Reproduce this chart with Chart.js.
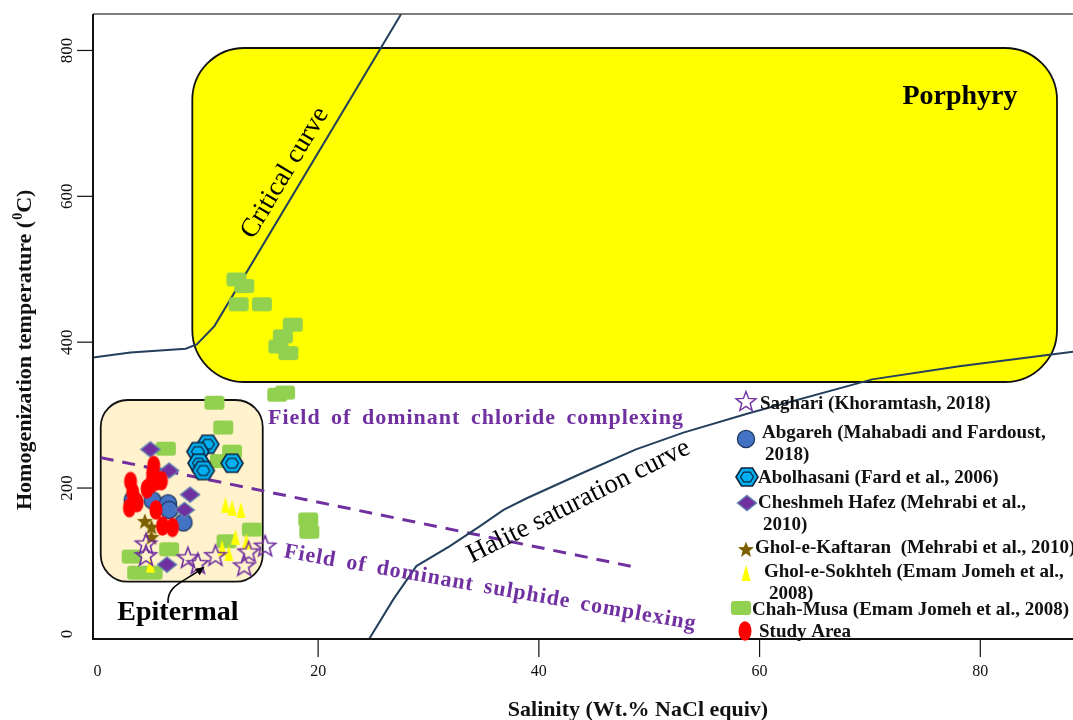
<!DOCTYPE html>
<html>
<head>
<meta charset="utf-8">
<title>Homogenization temperature vs salinity</title>
<script src="https://cdn.jsdelivr.net/npm/chart.js@4.4.1/dist/chart.umd.min.js"></script>
<style>
  html, body { margin: 0; padding: 0; background: #fff; overflow: hidden; }
  canvas { display: block; }
</style>
</head>
<body>
<canvas id="fluidChart" width="1073" height="720"></canvas>
<script>
// axis ticks
const xTicks = [0, 20, 40, 60, 80];
const yTicks = [0, 200, 400, 600, 800];

// fluid inclusion data (salinity wt.% NaCl, Th in C)
const saghariX = [4.4, 4.4, 8.2, 9.1, 10.7, 13.7, 13.3, 15.2];
const saghariY = [124, 108, 105, 97, 108, 113, 94, 121];
const abgarehX = [3.2, 5.0, 5.4, 6.4, 6.5, 7.8];
const abgarehY = [184, 183, 216, 179, 170, 153];
const abolhasaniX = [10.0, 9.1, 9.2, 9.6, 12.2];
const abolhasaniY = [260, 250, 234, 224, 234];
const cheshmehX = [4.8, 6.5, 8.4, 7.9, 6.3];
const cheshmehY = [253, 224, 191, 170, 95];
const kaftaranX = [4.3, 4.9, 4.9];
const kaftaranY = [155, 147, 133];
const sokhtehX = [11.6, 12.2, 13.0, 12.5, 11.3, 11.9, 13.5, 4.8];
const sokhtehY = [177, 173, 170, 133, 118, 111, 127, 95];
const chahMusaX = [12.6, 13.3, 12.8, 14.9, 17.7, 16.8, 16.4, 17.3, 16.3, 17.0, 10.6, 11.4, 12.2, 11.1, 6.2, 14.0, 11.7, 6.5, 3.1, 3.6, 5.0, 19.1, 19.2];
const chahMusaY = [486, 477, 452, 452, 424, 408, 394, 385, 328, 331, 317, 283, 250, 237, 254, 143, 127, 116, 106, 84, 84, 157, 140];
const studyX = [5.1, 5.0, 3.0, 3.2, 3.6, 2.9, 4.5, 4.9, 5.4, 5.8, 5.3, 5.9, 6.8];
const studyY = [231, 220, 209, 194, 180, 173, 199, 206, 210, 210, 170, 148, 146];

// reference curves
const criticalX = [-0.4, 3, 8, 9, 10.6, 29.5];
const criticalY = [379, 386, 391, 397, 422, 900];
const haliteX = [24.5, 26.8, 28.9, 31.9, 34.6, 36.8, 38.9, 44.0, 48.8, 53.1, 59.1, 70.2, 78.1, 88.4];
const haliteY = [-10, 47, 93, 120, 147, 170, 186, 221, 253, 276, 303, 349, 367, 387];
const complexX = [0.3, 48.9];
const complexY = [241.7, 91.0];

// fields: [x left, x right, y top, y bottom]
const porphyryBox = [8.6, 86.95, 803.4, 345.4];
const epithermalBox = [0.3, 14.98, 320.7, 71.6];

const legendLabels = [
  ['Saghari (Khoramtash, 2018)'],
  ['Abgareh (Mahabadi and Fardoust,', '2018)'],
  ['Abolhasani (Fard et al., 2006)'],
  ['Cheshmeh Hafez (Mehrabi et al.,', '2010)'],
  ['Ghol-e-Kaftaran  (Mehrabi et al., 2010)'],
  ['Ghol-e-Sokhteh (Emam Jomeh et al.,', '2008)'],
  ['Chah-Musa (Emam Jomeh et al., 2008)'],
  ['Study Area']
];

const SERIF = '"Liberation Serif", "Times New Roman", serif';
const PURPLE = '#7030A0';
const CURVE = '#243F5C';

function pointSet(xs, ys) {
  return xs.map((v, i) => ({ x: v, y: ys[i] }));
}

// little canvases used as point styles
function markerCanvas(w, h, draw) {
  const c = document.createElement('canvas');
  c.width = w; c.height = h;
  draw(c.getContext('2d'), w / 2, h / 2);
  return c;
}

function starPath(g, cx, cy, ro, ri) {
  g.beginPath();
  for (let i = 0; i < 10; i++) {
    const r = i % 2 ? ri : ro;
    const a = -Math.PI / 2 + i * Math.PI / 5;
    g.lineTo(cx + r * Math.cos(a), cy + r * Math.sin(a));
  }
  g.closePath();
}

function hexPath(g, cx, cy, hw, hh) {
  g.beginPath();
  g.moveTo(cx - hw, cy);
  g.lineTo(cx - hw / 2, cy - hh);
  g.lineTo(cx + hw / 2, cy - hh);
  g.lineTo(cx + hw, cy);
  g.lineTo(cx + hw / 2, cy + hh);
  g.lineTo(cx - hw / 2, cy + hh);
  g.closePath();
}

const openStar = markerCanvas(26, 26, (g, cx, cy) => {
  starPath(g, cx, cy + 1, 11, 4.6);
  g.lineWidth = 1.6; g.strokeStyle = PURPLE; g.stroke();
});
const brownStar = markerCanvas(20, 20, (g, cx, cy) => {
  starPath(g, cx, cy + 1, 8.5, 3.6);
  g.fillStyle = '#7F6000'; g.fill();
});
const blueCircle = markerCanvas(22, 22, (g, cx, cy) => {
  g.beginPath(); g.arc(cx, cy, 8.6, 0, Math.PI * 2);
  g.fillStyle = '#4472C4'; g.fill();
  g.lineWidth = 1.3; g.strokeStyle = '#1F3A64'; g.stroke();
});
const hexagon = markerCanvas(26, 22, (g, cx, cy) => {
  hexPath(g, cx, cy, 11, 9);
  g.fillStyle = '#00B0F0'; g.fill();
  g.lineWidth = 1.6; g.strokeStyle = '#10243F'; g.stroke();
  hexPath(g, cx, cy, 6.5, 4.8);
  g.lineWidth = 1.2; g.stroke();
});
const diamond = markerCanvas(22, 18, (g, cx, cy) => {
  g.beginPath();
  g.moveTo(cx, cy - 7.5); g.lineTo(cx + 9.5, cy); g.lineTo(cx, cy + 7.5); g.lineTo(cx - 9.5, cy);
  g.closePath();
  g.fillStyle = PURPLE; g.fill();
  g.lineWidth = 1.4; g.strokeStyle = '#5E7FB0'; g.stroke();
});
const triangle = markerCanvas(12, 18, (g, cx, cy) => {
  g.beginPath();
  g.moveTo(cx, cy - 8); g.lineTo(cx + 4.5, cy + 8); g.lineTo(cx - 4.5, cy + 8);
  g.closePath();
  g.fillStyle = '#FFFF00'; g.fill();
});
const greenRect = markerCanvas(22, 16, (g, cx, cy) => {
  g.beginPath(); g.roundRect(cx - 10, cy - 7, 20, 14, 3);
  g.fillStyle = '#92D050'; g.fill();
});
const redEllipse = markerCanvas(16, 22, (g, cx, cy) => {
  g.beginPath(); g.ellipse(cx, cy, 6.5, 9.8, 0, 0, Math.PI * 2);
  g.fillStyle = '#FF0000'; g.fill();
});
const legendStar = markerCanvas(24, 24, (g, cx, cy) => {
  starPath(g, cx, cy + 1, 10.5, 4.4);
  g.lineWidth = 1.4; g.strokeStyle = PURPLE; g.stroke();
});

const legendMarkers = [legendStar, blueCircle, hexagon, diamond, brownStar, triangle, greenRect, redEllipse];
// marker centre, text start, text middle for each legend row (second line below)
const legendRows = [
  { mx: 746, my: 401, tx: 760, ty: 404 },
  { mx: 746, my: 439, tx: 762, ty: 433, tx2: 765, ty2: 455 },
  { mx: 747, my: 477, tx: 758, ty: 478 },
  { mx: 747, my: 503, tx: 758, ty: 503, tx2: 763, ty2: 525 },
  { mx: 746, my: 549, tx: 755, ty: 548 },
  { mx: 746, my: 573, tx: 764, ty: 572, tx2: 769, ty2: 594 },
  { mx: 741, my: 608, tx: 752, ty: 610 },
  { mx: 745, my: 631, tx: 759, ty: 632 }
];

function drawBox(ctx, xs, ys, box, fill, r) {
  const l = xs.getPixelForValue(box[0]);
  const rt = xs.getPixelForValue(box[1]);
  const t = ys.getPixelForValue(box[2]);
  const b = ys.getPixelForValue(box[3]);
  ctx.save();
  ctx.beginPath();
  ctx.roundRect(l, t, rt - l, b - t, r);
  ctx.fillStyle = fill;
  ctx.fill();
  ctx.lineWidth = 1.8;
  ctx.strokeStyle = '#111';
  ctx.stroke();
  ctx.restore();
}

function drawLabel(ctx, xs, ys, text, vx, vy, opts) {
  ctx.save();
  ctx.translate(xs.getPixelForValue(vx), ys.getPixelForValue(vy));
  ctx.rotate((opts.angle || 0) * Math.PI / 180);
  ctx.font = opts.font;
  ctx.fillStyle = opts.color || '#000';
  ctx.letterSpacing = opts.spacing || '0px';
  ctx.wordSpacing = opts.wordSpacing || '0px';
  ctx.textAlign = 'center';
  ctx.textBaseline = opts.baseline || 'middle';
  ctx.fillText(text, 0, 0);
  ctx.restore();
}

const fieldPlugin = {
  id: 'fieldPlugin',
  beforeDatasetsDraw(chart) {
    const { ctx, scales: { x, y } } = chart;
    drawBox(ctx, x, y, porphyryBox, '#FFFF00', 52);
    drawBox(ctx, x, y, epithermalBox, '#FFF2CC', 27);
  },
  afterDatasetsDraw(chart) {
    const { ctx, scales: { x, y } } = chart;
    drawLabel(ctx, x, y, 'Porphyry', 78.16, 726.6, { font: 'bold 28px ' + SERIF, baseline: 'alphabetic' });
    drawLabel(ctx, x, y, 'Epitermal', 7.3, 19.0, { font: 'bold 28px ' + SERIF, baseline: 'alphabetic' });
    drawLabel(ctx, x, y, 'Critical curve', 17.0, 632, { font: '27px ' + SERIF, angle: -59.3 });
    drawLabel(ctx, x, y, 'Halite saturation curve', 43.6, 181.5, { font: '27px ' + SERIF, angle: -26.7 });
    drawLabel(ctx, x, y, 'Field of dominant chloride complexing', 34.3, 296.0,
      { font: 'bold 22px ' + SERIF, color: PURPLE, spacing: '1px', wordSpacing: '4px' });
    drawLabel(ctx, x, y, 'Field of dominant sulphide complexing', 35.6, 62.9,
      { font: 'bold 22px ' + SERIF, color: PURPLE, spacing: '1px', wordSpacing: '4px', angle: 10 });

    // curved arrow pointing at the epithermal cluster
    const p0 = [x.getPixelForValue(6.4), y.getPixelForValue(42.4)];
    const c1 = [x.getPixelForValue(6.3), y.getPixelForValue(67.0)];
    const c2 = [x.getPixelForValue(7.85), y.getPixelForValue(71.2)];
    const p3 = [x.getPixelForValue(9.57), y.getPixelForValue(90.4)];
    ctx.save();
    ctx.strokeStyle = '#000';
    ctx.lineWidth = 1.5;
    ctx.beginPath();
    ctx.moveTo(p0[0], p0[1]);
    ctx.bezierCurveTo(c1[0], c1[1], c2[0], c2[1], p3[0], p3[1]);
    ctx.stroke();
    const ang = Math.atan2(p3[1] - c2[1], p3[0] - c2[0]);
    ctx.translate(p3[0], p3[1]);
    ctx.rotate(ang);
    ctx.beginPath();
    ctx.moveTo(2, 0);
    ctx.lineTo(-7, -4);
    ctx.lineTo(-7, 4);
    ctx.closePath();
    ctx.fillStyle = '#000';
    ctx.fill();
    ctx.restore();
  },
  afterDraw(chart) {
    const { ctx, chartArea: a, scales: { x, y } } = chart;
    ctx.save();
    // frame
    ctx.strokeStyle = '#555';
    ctx.lineWidth = 1.5;
    ctx.beginPath();
    ctx.moveTo(a.left, a.top); ctx.lineTo(a.right, a.top);
    ctx.stroke();
    ctx.strokeStyle = '#111';
    ctx.lineWidth = 2;
    ctx.beginPath();
    ctx.moveTo(a.left, a.top); ctx.lineTo(a.left, a.bottom); ctx.lineTo(a.right, a.bottom);
    ctx.stroke();

    // y ticks and rotated labels
    ctx.lineWidth = 1.2;
    ctx.fillStyle = '#111';
    ctx.font = '17px ' + SERIF;
    yTicks.forEach(v => {
      const py = y.getPixelForValue(v);
      if (v > 0) {
        ctx.beginPath(); ctx.moveTo(a.left - 16, py); ctx.lineTo(a.left, py); ctx.stroke();
      }
      ctx.save();
      ctx.translate(72, py);
      ctx.rotate(-Math.PI / 2);
      ctx.textAlign = 'center';
      ctx.textBaseline = 'alphabetic';
      ctx.fillText(String(v), 0, 0);
      ctx.restore();
    });

    // x ticks
    ctx.font = '16px ' + SERIF;
    ctx.textAlign = 'center';
    ctx.textBaseline = 'middle';
    xTicks.forEach(v => {
      const px = x.getPixelForValue(v);
      if (v > 0) {
        ctx.beginPath(); ctx.moveTo(px, a.bottom); ctx.lineTo(px, a.bottom + 18); ctx.stroke();
      }
      ctx.fillText(String(v), px, a.bottom + 33);
    });

    // axis titles
    ctx.font = 'bold 22px ' + SERIF;
    ctx.textBaseline = 'alphabetic';
    ctx.fillText('Salinity (Wt.% NaCl equiv)', 638, 716);

    ctx.save();
    ctx.translate(31, 510);
    ctx.rotate(-Math.PI / 2);
    ctx.textAlign = 'left';
    const part1 = 'Homogenization temperature (';
    ctx.font = 'bold 22px ' + SERIF;
    ctx.fillText(part1, 0, 0);
    let off = ctx.measureText(part1).width;
    ctx.font = 'bold 14px ' + SERIF;
    ctx.fillText('0', off + 1, -9);
    off += ctx.measureText('0').width + 1;
    ctx.font = 'bold 22px ' + SERIF;
    ctx.fillText('C)', off, 0);
    ctx.restore();

    // legend
    ctx.font = 'bold 19px ' + SERIF;
    ctx.textAlign = 'left';
    ctx.textBaseline = 'middle';
    ctx.fillStyle = '#111';
    legendRows.forEach((row, i) => {
      const m = legendMarkers[i];
      ctx.drawImage(m, row.mx - m.width / 2, row.my - m.height / 2);
      ctx.fillText(legendLabels[i][0], row.tx, row.ty);
      if (legendLabels[i][1]) ctx.fillText(legendLabels[i][1], row.tx2, row.ty2);
    });
    ctx.restore();
  }
};

function markerSet(label, xs, ys, style, order) {
  return { label: label, data: pointSet(xs, ys), pointStyle: style, pointRadius: 6, order: order };
}

function curveSet(label, xs, ys, color, dash, width, order) {
  return {
    type: 'line', label: label, data: pointSet(xs, ys), showLine: true,
    borderColor: color, borderWidth: width, borderDash: dash,
    pointRadius: 0, fill: false, tension: 0, order: order
  };
}

new Chart(document.getElementById('fluidChart'), {
  type: 'scatter',
  data: {
    datasets: [
      markerSet('Study Area', studyX, studyY, redEllipse, 1),
      markerSet('Saghari (Khoramtash, 2018)', saghariX, saghariY, openStar, 2),
      markerSet('Ghol-e-Kaftaran (Mehrabi et al., 2010)', kaftaranX, kaftaranY, brownStar, 3),
      markerSet('Ghol-e-Sokhteh (Emam Jomeh et al., 2008)', sokhtehX, sokhtehY, triangle, 4),
      markerSet('Cheshmeh Hafez (Mehrabi et al., 2010)', cheshmehX, cheshmehY, diamond, 5),
      markerSet('Abgareh (Mahabadi and Fardoust, 2018)', abgarehX, abgarehY, blueCircle, 6),
      markerSet('Abolhasani (Fard et al., 2006)', abolhasaniX, abolhasaniY, hexagon, 7),
      markerSet('Chah-Musa (Emam Jomeh et al., 2008)', chahMusaX, chahMusaY, greenRect, 8),
      curveSet('Critical curve', criticalX, criticalY, CURVE, [], 2, 9),
      curveSet('Halite saturation curve', haliteX, haliteY, CURVE, [], 2, 10),
      curveSet('Chloride / sulphide boundary', complexX, complexY, PURPLE, [13, 9], 3, 11)
    ]
  },
  options: {
    responsive: false,
    animation: false,
    layout: { autoPadding: false, padding: { left: 93, top: 14, right: 0, bottom: 81 } },
    scales: {
      x: { type: 'linear', min: -0.4, max: 88.4, display: false },
      y: { type: 'linear', min: -7, max: 850, display: false }
    },
    plugins: {
      legend: { display: false },
      tooltip: { enabled: false }
    }
  },
  plugins: [fieldPlugin]
});
</script>
</body>
</html>
